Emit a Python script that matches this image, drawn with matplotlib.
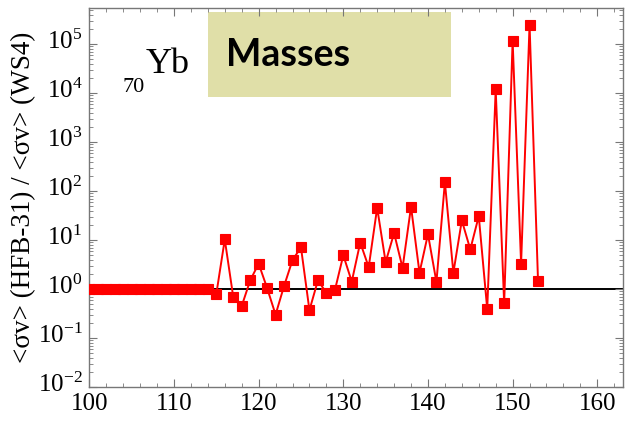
import numpy as np
import matplotlib
matplotlib.use("Agg")
import matplotlib.pyplot as plt
import matplotlib.transforms as mtransforms
from matplotlib.patches import Rectangle
from matplotlib.ticker import LogLocator, MultipleLocator, NullFormatter

# ── Donnees ─────────────────────────────────────────────────────────────────
mass_number = list(range(100, 154))
ratio_flat = [1.0] * 15          # A = 100 .. 114
ratio_rest = [0.79, 10.3, 0.69, 0.45, 1.5, 3.3, 1.05, 0.30, 1.15, 3.9,
              7.1, 0.37, 1.5, 0.84, 0.94, 4.9, 1.42, 8.9, 2.8, 45.7,
              3.55, 13.9, 2.7, 47.9, 2.15, 13.2, 1.39, 152.0, 2.15, 25.2,
              6.45, 30.9, 0.39, 1.19e4, 0.51, 1.17e5, 3.3, 2.5e5, 1.46]
ratio = ratio_flat + ratio_rest

plt.rcParams["font.family"] = ["Liberation Serif", "DejaVu Serif"]
plt.rcParams["mathtext.fontset"] = "stix"
plt.rcParams["axes.unicode_minus"] = False

fig = plt.figure(figsize=(6.25, 4.22), dpi=100)
ax = fig.add_axes([0.1429, 0.0829, 0.8534, 0.8974])

ax.axhline(1.0, color="black", lw=1.4, zorder=1)
ax.plot(mass_number, ratio, color="#ff0000", lw=1.4, marker="s",
        markersize=7.5, markeredgewidth=0.8, markeredgecolor="#ff0000",
        zorder=3)

ax.set_yscale("log")
ax.set_xlim(100, 163)
ax.set_ylim(1e-2, 5.4e5)

ax.xaxis.set_major_locator(MultipleLocator(10))
ax.xaxis.set_minor_locator(MultipleLocator(2))
ax.yaxis.set_major_locator(LogLocator(base=10, numticks=20))
ax.yaxis.set_minor_locator(LogLocator(base=10, subs=np.arange(2, 10), numticks=20))
ax.yaxis.set_minor_formatter(NullFormatter())

ax.tick_params(which="both", direction="in", top=True, right=True,
               labelsize=18, color="#777777")
ax.tick_params(axis="x", pad=4)
ax.tick_params(axis="y", pad=5)
ax.tick_params(which="major", length=6)
ax.tick_params(which="minor", length=3)
for s in ax.spines.values():
    s.set_color("#777777")
    s.set_linewidth(1.0)

# les etiquettes 10^n sont un peu au-dessus des graduations
shift = mtransforms.ScaledTranslation(0, 5 / 100, fig.dpi_scale_trans)
for lbl in ax.get_yticklabels():
    lbl.set_transform(lbl.get_transform() + shift)

ax.set_ylabel("<σv> (HFB-31) / <σv> (WS4)", fontsize=19.5, labelpad=1)

# boite "Masses"
ax.add_patch(Rectangle((0.222, 0.767), 0.457, 0.223, transform=ax.transAxes,
                       facecolor="#e0dfa8", edgecolor="none", zorder=0))
ax.text(0.257, 0.848, "Masses", transform=ax.transAxes, fontsize=27,
        fontweight="bold", family="Lato", va="baseline", ha="left")

# element
ax.text(0.0626, 0.778, "70", transform=ax.transAxes, fontsize=16,
        va="baseline", ha="left")
ax.text(0.1063, 0.829, "Yb", transform=ax.transAxes, fontsize=26,
        va="baseline", ha="left")

fig.savefig("out.png", dpi=100)
